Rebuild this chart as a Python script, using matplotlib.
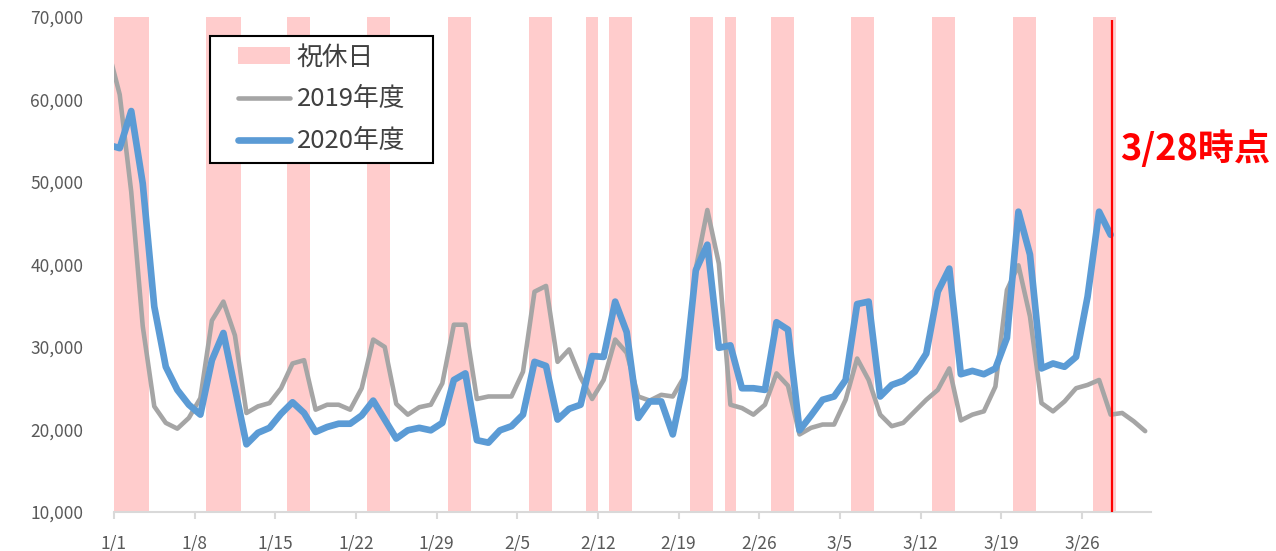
import numpy as np
import pandas as pd
import matplotlib
matplotlib.use('Agg')
import matplotlib.pyplot as plt
from matplotlib.patches import Patch, Rectangle
from matplotlib.lines import Line2D

plt.rcParams['font.family'] = ['Noto Sans CJK JP', 'DejaVu Sans']

# categories: 1/1 - 3/31
days = pd.date_range('2021-01-01', '2021-03-31')
labels = [f'{d.month}/{d.day}' for d in days]

holidays = ['1/1', '1/2', '1/3', '1/9', '1/10', '1/11', '1/16', '1/17', '1/23', '1/24',
            '1/30', '1/31', '2/6', '2/7', '2/11', '2/13', '2/14', '2/20', '2/21', '2/23',
            '2/27', '2/28', '3/6', '3/7', '3/13', '3/14', '3/20', '3/21', '3/27', '3/28']

# value on 12/31 (only a sliver is visible at the left edge)
fy2019_dec31 = 66000
fy2020_dec31 = 54500

# 2019年度 (1/1 - 3/31)
fy2019 = [60600, 48800, 32500, 22800, 20800, 20100, 21400, 23800, 33200, 35500,
          31400, 22000, 22800, 23200, 25000, 28000, 28400, 22400, 23000, 23000,
          22400, 25000, 30900, 30000, 23100, 21800, 22700, 23000, 25600, 32700,
          32700, 23700, 24000, 24000, 24000, 27000, 36700, 37400, 28200, 29700,
          26300, 23700, 26000, 30900, 29300, 24000, 23500, 24200, 24000, 26400,
          39500, 46600, 40100, 23000, 22600, 21800, 23000, 26800, 25300, 19400,
          20200, 20600, 20600, 23600, 28600, 26000, 21800, 20400, 20800, 22200,
          23600, 24800, 27400, 21100, 21800, 22200, 25200, 36900, 39900, 33700,
          23200, 22200, 23400, 25000, 25400, 26000, 21800, 22000, 21000, 19800]

# 2020年度 (1/1 - 3/28)
fy2020 = [54100, 58600, 49800, 34900, 27600, 24800, 23000, 21800, 28400, 31700,
          25000, 18200, 19600, 20200, 21900, 23300, 22000, 19700, 20300, 20700,
          20700, 21700, 23500, 21200, 18900, 19900, 20200, 19900, 20800, 26000,
          26800, 18700, 18400, 19900, 20400, 21800, 28200, 27700, 21200, 22500,
          23000, 28900, 28800, 35500, 31800, 21400, 23400, 23400, 19400, 26000,
          39300, 42400, 29900, 30200, 25000, 25000, 24800, 33000, 32100, 19900,
          21700, 23600, 24000, 26000, 35200, 35500, 24000, 25400, 25900, 27000,
          29200, 36700, 39500, 26700, 27100, 26700, 27400, 31100, 46400, 41200,
          27400, 28000, 27600, 28800, 36100, 46400, 43600]

now_label = '3/28'

pink = '#FFCCCC'
gray = '#A5A5A5'
blue = '#5B9BD5'
txt = '#595959'

fig = plt.figure(figsize=(12.76, 5.51), dpi=100)
ax = fig.add_axes([0.0893, 0.0708, 0.8127, 0.8984])

x = np.arange(len(labels)) + 0.5
hol = np.array([lab in holidays for lab in labels])
ax.bar(x[hol], 60000, bottom=10000, width=1.0, color=pink, linewidth=0, zorder=1)

x19 = np.concatenate([[-0.5], x[:len(fy2019)]])
x20 = np.concatenate([[-0.5], x[:len(fy2020)]])
ax.plot(x19, [fy2019_dec31] + fy2019, color=gray, lw=3.3, zorder=2,
        solid_joinstyle='round', solid_capstyle='round')
ax.plot(x20, [fy2020_dec31] + fy2020, color=blue, lw=4.8, zorder=3,
        solid_joinstyle='round', solid_capstyle='round')

xn = x[labels.index(now_label)] + 0.12
ax.vlines(xn, 10000, 69600, color='red', lw=1.6, zorder=4, clip_on=False)
ax.text(xn + 0.7, 54000, '3/28時点', color='red', fontsize=26, fontweight='bold',
        ha='left', va='center', clip_on=False)

ax.set_xlim(0, 90)
ax.set_ylim(10000, 70000)
ax.set_xticks(np.arange(0, 90, 7))
ax.set_xticklabels(labels[0::7])
ax.set_yticks(np.arange(10000, 70001, 10000))
ax.set_yticklabels([f'{v:,}' for v in range(10000, 70001, 10000)])
for s in ['top', 'right', 'left']:
    ax.spines[s].set_visible(False)
ax.spines['bottom'].set_color('#D9D9D9')
ax.spines['bottom'].set_linewidth(1.5)
ax.tick_params(axis='x', colors='#D9D9D9', length=5, width=1.5, pad=11,
               labelcolor=txt, labelsize=12.5)
ax.tick_params(axis='y', length=0, pad=22, labelcolor=txt, labelsize=12.5)

# legend box
fig.add_artist(Rectangle((210 / 1276, 1 - 163 / 551), 223 / 1276, 127 / 551,
                         transform=fig.transFigure, facecolor='white',
                         edgecolor='black', lw=1.5, zorder=5))
handles = [Patch(facecolor=pink, edgecolor='none'),
           Line2D([], [], color=gray, lw=3.3, solid_capstyle='round'),
           Line2D([], [], color=blue, lw=4.8, solid_capstyle='round')]
leg = fig.legend(handles, ['祝休日', '2019年度', '2020年度'], loc='center',
                 bbox_to_anchor=(321.5 / 1276, 1 - 99.5 / 551), frameon=False,
                 fontsize=18.5, handlelength=2.05, handleheight=0.6, handletextpad=0.25,
                 labelspacing=0.62, borderpad=0, labelcolor='#404040')
leg.set_zorder(6)

fig.savefig('out.png', dpi=100)
